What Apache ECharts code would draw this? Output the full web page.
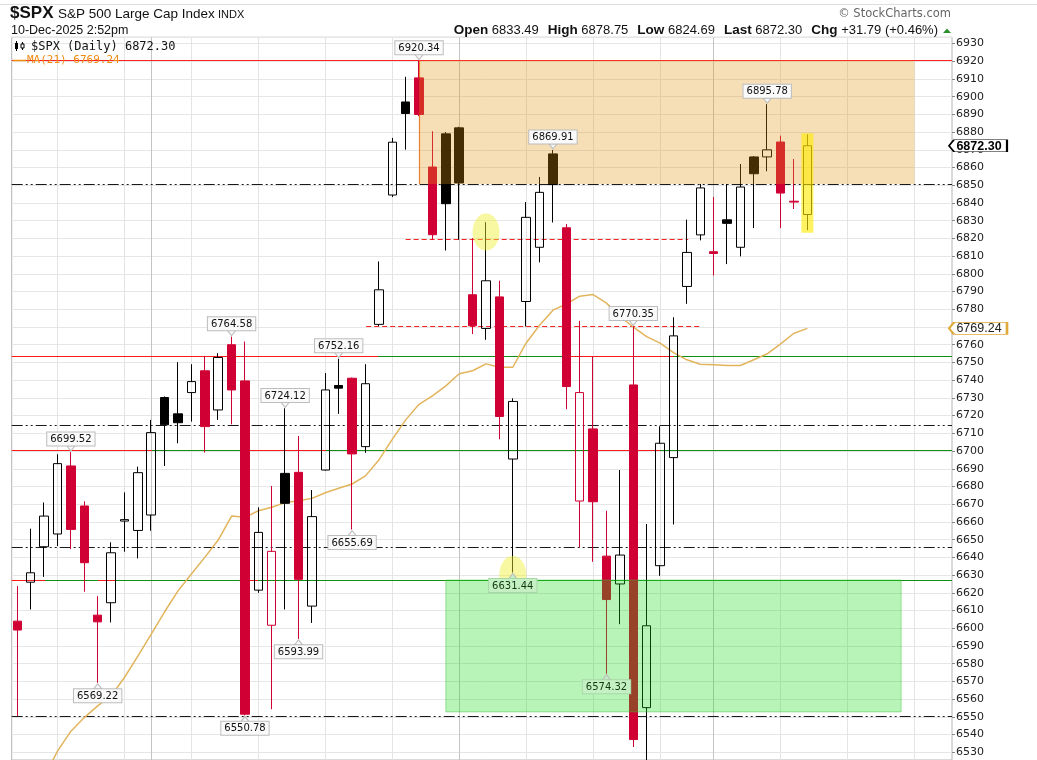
<!DOCTYPE html>
<html>
<head>
<meta charset="utf-8">
<script src="https://cdn.jsdelivr.net/npm/echarts@6/dist/echarts.min.js"></script>
<style>
html,body{margin:0;padding:0;background:#fff;overflow:hidden}
#c{width:1037px;height:760px}
</style>
</head>
<body>
<div id="c"></div>
<script>
// ---------- DATA ----------
const dates = [
 '2025-09-17','2025-09-18','2025-09-19','2025-09-22','2025-09-23','2025-09-24','2025-09-25','2025-09-26','2025-09-29','2025-09-30',
 '2025-10-01','2025-10-02','2025-10-03','2025-10-06','2025-10-07','2025-10-08','2025-10-09','2025-10-10','2025-10-13','2025-10-14',
 '2025-10-15','2025-10-16','2025-10-17','2025-10-20','2025-10-21','2025-10-22','2025-10-23','2025-10-24','2025-10-27','2025-10-28',
 '2025-10-29','2025-10-30','2025-10-31','2025-11-03','2025-11-04','2025-11-05','2025-11-06','2025-11-07','2025-11-10','2025-11-11',
 '2025-11-12','2025-11-13','2025-11-14','2025-11-17','2025-11-18','2025-11-19','2025-11-20','2025-11-21','2025-11-24','2025-11-25',
 '2025-11-26','2025-11-28','2025-12-01','2025-12-02','2025-12-03','2025-12-04','2025-12-05','2025-12-08','2025-12-09','2025-12-10'
];
const futureDates = ['2025-12-11','2025-12-12','2025-12-15','2025-12-16','2025-12-17','2025-12-18','2025-12-19','2025-12-22','2025-12-23','2025-12-24'];

const opens = [
 6604.0,6626.0,6646.0,6653.2,6691.6,6669.0,6607.4,6614.4,6660.5,6655.2,
 6663.9,6730.2,6721.0,6733.0,6745.3,6723.2,6760.0,6739.6,6621.5,6601.7,
 6687.4,6688.0,6612.5,6689.3,6737.0,6741.1,6702.5,6771.5,6844.5,6897.0,
 6910.6,6860.3,6879.0,6882.4,6788.2,6769.2,6787.0,6695.5,6784.4,6815.0,
 6867.7,6826.0,6671.8,6712.5,6640.7,6625.0,6737.3,6555.2,6635.3,6696.3,
 6792.9,6822.0,6812.5,6830.5,6815.0,6866.0,6866.0,6874.4,6841.0,6833.49
];
const closes = [
 6599.0,6631.3,6663.3,6692.9,6655.8,6637.0,6603.6,6642.6,6661.3,6687.8,
 6710.4,6714.8,6716.0,6739.2,6713.8,6752.8,6734.5,6551.5,6654.1,6643.4,
 6670.5,6627.6,6663.0,6734.5,6735.5,6698.4,6738.0,6791.0,6874.3,6890.5,
 6890.0,6822.1,6839.6,6851.3,6770.7,6796.1,6719.5,6728.0,6831.9,6846.0,
 6850.4,6736.4,6733.0,6671.4,6616.2,6641.3,6537.2,6601.4,6704.4,6765.0,
 6812.1,6848.5,6811.5,6828.5,6849.0,6856.5,6870.0,6845.6,6840.51,6872.30
];
const lows = [
 6550.5,6610.6,6629.0,6646.4,6644.7,6620.6,6569.22,6603.3,6643.2,6639.4,
 6655.0,6691.6,6704.4,6716.6,6699.1,6717.6,6715.1,6550.78,6620.0,6554.3,
 6610.6,6593.99,6603.0,6689.0,6721.0,6655.69,6699.0,6770.5,6843.4,6870.1,
 6889.0,6819.3,6813.2,6819.3,6766.0,6762.8,6706.7,6631.44,6770.3,6806.5,
 6829.0,6723.6,6645.6,6637.5,6574.32,6602.3,6533.0,6521.0,6629.6,6658.6,
 6783.1,6818.9,6799.1,6805.5,6809.9,6825.8,6857.9,6825.8,6836.6,6824.69
];
const highs = [
 6623.8,6656.2,6671.0,6698.2,6699.52,6671.6,6618.1,6648.5,6676.7,6691.2,
 6717.6,6730.8,6750.2,6749.0,6753.7,6755.2,6764.58,6761.8,6668.2,6680.3,
 6724.12,6708.5,6678.0,6744.0,6752.16,6741.5,6749.0,6807.0,6876.7,6911.2,
 6920.34,6880.5,6880.0,6883.0,6820.2,6829.2,6796.1,6729.8,6840.5,6854.7,
 6869.91,6828.1,6773.5,6753.4,6666.3,6689.3,6770.35,6658.8,6714.0,6775.5,
 6830.6,6850.7,6843.4,6850.7,6862.0,6866.5,6895.78,6878.0,6864.8,6878.75
];
const ma21 = [
 6500.0,6508.0,6516.0,6530.7,6541.9,6549.6,6556.2,6561.8,6572.2,6584.3,
 6596.7,6609.3,6621.1,6630.6,6640.0,6649.8,6663.3,6662.6,6666.3,6668.3,
 6670.9,6672.0,6673.3,6676.5,6679.0,6681.4,6686.0,6695.0,6706.6,6717.6,
 6726.4,6731.1,6736.8,6743.6,6745.3,6749.2,6747.3,6747.3,6761.0,6771.0,
 6779.5,6783.0,6787.4,6788.3,6783.5,6776.0,6770.0,6764.6,6760.9,6755.5,
 6751.5,6749.0,6748.7,6748.3,6748.3,6751.5,6754.9,6760.5,6766.5,6769.24
];

// callouts (indices of candles whose high / low is labelled)
const highCallouts = [4,16,20,24,30,40,46,56];
const lowCallouts  = [6,17,21,25,37,44];

// annotation levels (price units) and spans (candle-index units)
const resistanceTop = 6920.34;
const dashDotLevels = [6850.7, 6714.7, 6645.5, 6550.5];
const redGreenLevels = [6753.6, 6700.6, 6627.2];
const greenSpans = [
  [[26.94,40.9],[49,69.8]],
  [[10.06,17],[23.05,43],[48,69.8]],
  [[2.07,6.03],[7.3,16.6],[17.97,69.8]]
];
const redDashed = [[6819.5, 29.0, 50.1],[6770.2, 26.05, 51.0]];
const orangeZone = {x:[30,67], y:[6850.7, 6920.34]};
const greenZone  = {x:[32,66], y:[6552.8, 6627.2]};
const circledCandles = [[35,'high',10],[37,'low',2]];

// ---------- CHART ----------
const X_MIN = -0.42, X_MAX = 69.8;
const Y_MIN = 6525.65, Y_MAX = 6933.5;
const RED = '#d10034', BLACK = '#000000';
const last = dates.length - 1;
const allDates = dates.concat(futureDates);

const candleData = dates.map((d,i) => {
  const col = (i === 0 || closes[i] < closes[i-1]) ? RED : BLACK;
  const fill = closes[i] > opens[i] ? 'rgba(255,255,255,0)' : col;
  return {value:[i, opens[i], closes[i], lows[i], highs[i]],
          itemStyle:{color:fill, color0:fill, borderColor:col, borderColor0:col, borderColorDoji:col}};
});
const maData = ma21.map((v,i) => [i, v]);

// vertical week / month lines derived from the dates
const vLines = [];
allDates.forEach((d,i) => {
  const dt = new Date(d + 'T00:00:00Z');
  const monthStart = i > 0 && d.slice(5,7) !== allDates[i-1].slice(5,7);
  if (dt.getUTCDay() === 1 || monthStart) {
    vLines.push({xAxis:i, lineStyle:{color: monthStart ? '#c4c4c4' : '#e4e4e4', width:1, type:'solid'}});
  }
});

const ml = [];
ml.push({yAxis: resistanceTop, lineStyle:{color:'#ff2020', width:1.2, type:'solid'}});
dashDotLevels.forEach(v => ml.push({yAxis:v, lineStyle:{color:'#1a1a1a', width:1, type:[11,3,2,3,2,3]}}));
redGreenLevels.forEach((v,k) => {
  ml.push({yAxis:v, lineStyle:{color:'#ff1a1a', width:1.2, type:'solid'}});
  greenSpans[k].forEach(s => ml.push([{coord:[s[0], v], lineStyle:{color:'#109010', width:1.2, type:'solid'}},{coord:[s[1], v]}]));
});
redDashed.forEach(r => ml.push([{coord:[r[1], r[0]], lineStyle:{color:'#ff2020', width:1.2, type:[5,3]}},{coord:[r[2], r[0]]}]));
ml.push([{coord:[orangeZone.x[0], orangeZone.y[0]], lineStyle:{color:'#f07838', width:1.2, type:'solid'}},{coord:[orangeZone.x[0], orangeZone.y[1]]}]);

const labelBase = {show:true, fontFamily:'DejaVu Sans', fontSize:10, color:'#111',
  backgroundColor:'#fafafa', borderColor:'#bdbdbd', borderWidth:1, padding:[2,3,1,3], distance:0};
function inGreen(i, v){ return i >= greenZone.x[0] && i <= greenZone.x[1] && v < greenZone.y[1] + 12; }
const callouts = [];
highCallouts.forEach(i => callouts.push({
  coord:[i, highs[i]], value: highs[i],
  symbol:'path://M0,0L10,0L5,6Z', symbolSize:[8,5], symbolOffset:[0,-3.5],
  itemStyle:{color:'#fafafa', borderColor:'#bdbdbd', borderWidth:1},
  label:Object.assign({}, labelBase, {position:'top'})
}));
lowCallouts.forEach(i => {
  const g = inGreen(i, lows[i]);
  callouts.push({
    coord:[i, lows[i]], value: lows[i],
    symbol:'path://M5,0L10,6L0,6Z', symbolSize:[8,5], symbolOffset:[0,3.5],
    itemStyle:{color: g ? '#c4f0c4' : '#fafafa', borderColor:'#bdbdbd', borderWidth:1},
    label:Object.assign({}, labelBase, {position:'bottom'}, g ? {backgroundColor:'#c4f0c4', color:'#123a12', borderColor:'#a8d8a8'} : {})
  });
});
const flagPath = 'path://M0,6L5,0L58,0L58,12L5,12Z';
callouts.push({
  coord:[X_MAX, closes[last]], value: closes[last],
  symbol: flagPath, symbolSize:[58,12], symbolOffset:[26,0],
  itemStyle:{color:'#ffffff', borderColor:'#000', borderWidth:1},
  label:{show:true, position:'inside', offset:[1,0.5], fontFamily:'Liberation Sans', fontWeight:'bold', fontSize:12.5, color:'#000'}
});
const maFlag = {
  coord:[X_MAX, ma21[last]], value: ma21[last],
  symbol: flagPath, symbolSize:[58,12], symbolOffset:[26,0],
  itemStyle:{color:'#ffffff', borderColor:'#e0aa3a', borderWidth:1.2},
  label:{show:true, position:'inside', offset:[1,0.5], fontFamily:'Liberation Sans', fontSize:12.5, color:'#222'}
};

const circles = circledCandles.map(c => {
  const i = c[0];
  const v = c[1] === 'high' ? highs[i] : lows[i];
  return {coord:[i, v], value:v, symbol:'circle', symbolSize:[27,37], symbolOffset:[0,c[2]],
          itemStyle:{color:'rgba(240,240,50,0.45)'}, label:{show:false}};
});

const areas = [
  [{coord:[orangeZone.x[0], orangeZone.y[0]], itemStyle:{color:'rgba(225,148,15,0.30)'}},{coord:[orangeZone.x[1], orangeZone.y[1]]}],
  [{coord:[greenZone.x[0], greenZone.y[0]], itemStyle:{color:'rgba(20,220,20,0.30)', borderColor:'rgba(60,190,60,0.45)', borderWidth:1}},{coord:[greenZone.x[1], greenZone.y[1]]}],
  [{coord:[last-0.45, lows[last]-1.5], itemStyle:{color:'rgba(255,236,0,0.62)'}},{coord:[last+0.45, highs[last]+0.6]}]
];

const fmt = v => Number(v).toFixed(2);
const chg = closes[last] - closes[last-1];
const chgPct = chg / closes[last-1] * 100;
const sgn = chg >= 0 ? '+' : '-';

const chart = echarts.init(document.getElementById('c'), null, {renderer:'canvas'});
chart.setOption({
  animation:false,
  backgroundColor:'#ffffff',
  grid:{left:11.7, right:85, top:37.3, bottom:0, show:true, borderColor:'#b4b4b4', borderWidth:1, outerBoundsMode:'none', containLabel:false},
  xAxis:{type:'value', min:X_MIN, max:X_MAX, show:false, splitLine:{show:false}, axisLine:{onZero:false}},
  yAxis:{type:'value', position:'right', min:Y_MIN, max:Y_MAX, splitNumber:40, scale:true,
    axisLine:{show:false, onZero:false},
    axisTick:{show:true, length:3, lineStyle:{color:'#888'}},
    axisLabel:{showMinLabel:false, showMaxLabel:false, fontFamily:'DejaVu Sans', fontSize:11, color:'#222', margin:4,
               formatter: v => String(Math.round(v))},
    splitLine:{show:true, lineStyle:{color:'#e6e6e6', width:1}}
  },
  series:[
    {type:'line', name:'guides', data:[], z:1, silent:true,
     markLine:{z:1, silent:true, symbol:['none','none'], label:{show:false}, animation:false, data: vLines.concat(ml)}},
    {type:'line', name:'MA(21)', data:maData, z:1.5, symbol:'none', clip:true, silent:true,
     lineStyle:{color:'#e2b45c', width:1.5},
     markPoint:{z:7, silent:true, data:[maFlag], label:{formatter: p => fmt(p.value)}}},
    {type:'candlestick', name:'$SPX', z:2, barWidth:9, clip:true, silent:true,
     encode:{x:0, y:[1,2,3,4]},
     itemStyle:{borderWidth:1},
     data:candleData,
     markPoint:{z:6, silent:true, data:callouts, label:{formatter: p => fmt(p.value)}}},
    {type:'line', name:'zones', data:[], z:4, silent:true,
     markArea:{z:4, silent:true, data:areas},
     markPoint:{z:4, silent:true, data:circles}}
  ],
  graphic:[
    {type:'line', shape:{x1:0,y1:4.5,x2:1037,y2:4.5}, style:{stroke:'#dedede', lineWidth:1}, silent:true},
    {type:'text', x:10, y:13, style:{text:'$SPX', fontFamily:'Liberation Sans', fontWeight:'bold', fontSize:17, fill:'#111', verticalAlign:'middle'}},
    {type:'text', x:58, y:14, style:{text:'S&P 500 Large Cap Index', fontFamily:'Liberation Sans', fontSize:13.5, fill:'#111', verticalAlign:'middle'}},
    {type:'text', x:218, y:14.5, style:{text:'INDX', fontFamily:'Liberation Sans', fontSize:11, fill:'#111', verticalAlign:'middle'}},
    {type:'text', x:11, y:30.5, style:{text:'10-Dec-2025 2:52pm', fontFamily:'Liberation Sans', fontSize:12.5, fill:'#111', verticalAlign:'middle'}},
    {type:'text', x:951, y:14, style:{text:'\u00A9 StockCharts.com', fontFamily:'DejaVu Sans', fontSize:11.5, fill:'#666', align:'right', verticalAlign:'middle'}},
    {type:'text', x:938, y:30.5, style:{
      text:'{b|Open} {n|' + fmt(opens[last]) + '}{s| }{b|High} {n|' + fmt(highs[last]) + '}{s| }{b|Low} {n|' + fmt(lows[last]) +
           '}{s| }{b|Last} {n|' + fmt(closes[last]) + '}{s| }{b|Chg} {n|' + sgn + fmt(Math.abs(chg)) + ' (' + sgn + fmt(Math.abs(chgPct)) + '%)}',
      align:'right', verticalAlign:'middle', fontFamily:'Liberation Sans', fontSize:13, fill:'#111',
      rich:{b:{fontFamily:'Liberation Sans', fontWeight:'bold', fontSize:13.5, fill:'#111'},
            n:{fontFamily:'Liberation Sans', fontSize:13, fill:'#111'},
            s:{width:9}}
    }},
    {type:'polygon', shape:{points:[[943,33],[951,33],[947,28.5]]}, style:{fill:'#2f8f2f'}},
    // legend candle icon
    {type:'line', z:100, shape:{x1:16.5,y1:41,x2:16.5,y2:51}, style:{stroke:'#000', lineWidth:1}},
    {type:'rect', z:100, shape:{x:15,y:43,width:3,height:6}, style:{fill:'#000'}},
    {type:'line', z:100, shape:{x1:22.5,y1:42,x2:22.5,y2:50}, style:{stroke:'#000', lineWidth:1}},
    {type:'rect', z:100, shape:{x:21,y:44,width:3,height:4}, style:{fill:'#fff', stroke:'#000', lineWidth:1}},
    {type:'text', z:100, x:31, y:46.5, style:{text:'$SPX (Daily) ' + fmt(closes[last]), fontFamily:'DejaVu Sans Mono', fontSize:12, fill:'#111', verticalAlign:'middle'}},
    {type:'line', z:100, shape:{x1:13,y1:60.5,x2:26,y2:60.5}, style:{stroke:'#f08c10', lineWidth:1.5}},
    {type:'text', z:100, x:27, y:60.5, style:{text:'MA(21) ' + fmt(ma21[last]), fontFamily:'DejaVu Sans Mono', fontSize:11, fill:'#f08a10', verticalAlign:'middle'}}
  ]
});
</script>
</body>
</html>
